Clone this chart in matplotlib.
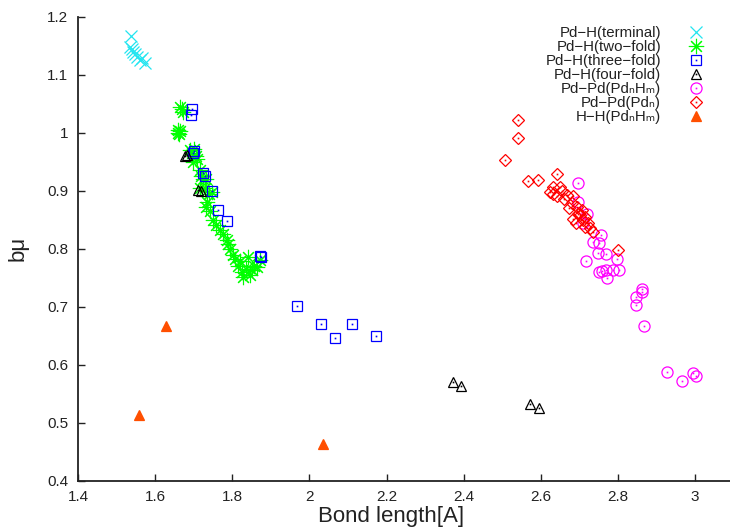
import matplotlib
matplotlib.use("Agg")
import matplotlib.pyplot as plt
from matplotlib.legend_handler import HandlerTuple

plt.rcParams['font.family'] = ['Liberation Sans', 'DejaVu Sans']

# ---- data
term_x = [1.537, 1.535, 1.539, 1.543, 1.548, 1.552, 1.561, 1.574, 1.565]
term_y = [1.167, 1.148, 1.145, 1.140, 1.135, 1.131, 1.125, 1.120, 1.128]

two_x = [1.665, 1.669, 1.672, 1.658, 1.660, 1.662, 1.664, 1.690, 1.695, 1.700, 1.705,
         1.708, 1.698, 1.715, 1.720, 1.725, 1.733, 1.716, 1.730, 1.740, 1.747, 1.735,
         1.733, 1.742, 1.751, 1.758, 1.768, 1.775, 1.786, 1.790, 1.795, 1.803, 1.808,
         1.820, 1.815, 1.829, 1.825, 1.841, 1.850, 1.855, 1.863, 1.872, 1.845, 1.835]
two_y = [1.045, 1.040, 1.035, 1.005, 1.000, 0.998, 1.003, 0.970, 0.965, 0.972, 0.960,
         0.955, 0.950, 0.935, 0.925, 0.920, 0.921, 0.904, 0.905, 0.895, 0.898, 0.880,
         0.872, 0.865, 0.849, 0.840, 0.832, 0.825, 0.815, 0.808, 0.800, 0.789, 0.782,
         0.778, 0.770, 0.752, 0.760, 0.786, 0.763, 0.770, 0.769, 0.780, 0.755, 0.765]

three_x = [1.695, 1.693, 1.697, 1.700, 1.725, 1.728, 1.747, 1.764, 1.785, 1.872,
           1.875, 1.969, 2.029, 2.067, 2.111, 2.173]
three_y = [1.040, 1.030, 0.965, 0.968, 0.930, 0.925, 0.900, 0.867, 0.848, 0.788,
           0.785, 0.702, 0.670, 0.646, 0.670, 0.649]

four_x = [1.682, 1.678, 1.712, 1.720, 2.373, 2.394, 2.573, 2.594]
four_y = [0.962, 0.960, 0.902, 0.900, 0.571, 0.564, 0.532, 0.526]

pdpd_h_x = [2.695, 2.697, 2.756, 2.736, 2.751, 2.749, 2.770, 2.796, 2.718, 2.751,
            2.759, 2.770, 2.771, 2.802, 2.788, 2.861, 2.863, 2.847, 2.847, 2.868,
            2.928, 2.965, 2.995, 3.001, 2.720, 2.710]
pdpd_h_y = [0.914, 0.881, 0.824, 0.812, 0.810, 0.793, 0.791, 0.783, 0.778, 0.760,
            0.762, 0.764, 0.750, 0.763, 0.763, 0.730, 0.726, 0.717, 0.703, 0.667,
            0.587, 0.572, 0.586, 0.581, 0.860, 0.845]

pdpd_x = [2.541, 2.541, 2.507, 2.566, 2.593, 2.641, 2.624, 2.632, 2.649, 2.632,
          2.641, 2.655, 2.667, 2.684, 2.660, 2.680, 2.693, 2.706, 2.700, 2.702,
          2.684, 2.690, 2.710, 2.715, 2.723, 2.714, 2.728, 2.736, 2.799, 2.672, 2.695]
pdpd_y = [1.022, 0.990, 0.953, 0.917, 0.918, 0.929, 0.898, 0.907, 0.907, 0.895,
          0.890, 0.900, 0.893, 0.890, 0.885, 0.878, 0.872, 0.867, 0.862, 0.858,
          0.852, 0.845, 0.850, 0.855, 0.844, 0.838, 0.835, 0.829, 0.797, 0.870, 0.860]

hh_x = [1.559, 1.628, 2.034]
hh_y = [0.513, 0.666, 0.463]

labels = ['Pd−H(terminal)', 'Pd−H(two−fold)', 'Pd−H(three−fold)', 'Pd−H(four−fold)',
          'Pd−Pd(PdₙHₘ)', 'Pd−Pd(Pdₙ)', 'H−H(PdₙHₘ)']

fig = plt.figure(figsize=(7.30, 5.31), dpi=100)
ax = fig.add_axes([78 / 730, 50.3 / 531, 652 / 730, 464 / 531])

handles = []

def pts(x, y, marker, color, ms, dot=False, filled=False, mew=0.9):
    h = ax.plot(x, y, ls='none', marker=marker, ms=ms, mew=mew,
                mec=color, mfc=color if filled else 'none')[0]
    if dot:
        d = ax.plot(x, y, ls='none', marker='s', ms=1.2, mew=0, mfc=color)[0]
        handles.append((h, d))
    else:
        handles.append(h)

pts(term_x, term_y, 'x', '#22e5f0', 9)
pts(two_x, two_y, (8, 2, 0), '#00ff00', 11, mew=0.8)
pts(three_x, three_y, 's', '#0000ff', 7.5, dot=True)
pts(four_x, four_y, '^', 'black', 7.5, dot=True)
pts(pdpd_h_x, pdpd_h_y, 'o', '#ff00ff', 8, dot=True)
pts(pdpd_x, pdpd_y, 'D', '#ff0000', 6, dot=True)
pts(hh_x, hh_y, '^', '#ff4f00', 6.5, filled=True)

ax.set_xlim(1.4, 1.4 + 652 / 385.75)
ax.set_ylim(0.4, 1.2)
ax.set_xticks([1.4, 1.6, 1.8, 2.0, 2.2, 2.4, 2.6, 2.8, 3.0])
ax.set_xticklabels(['1.4', '1.6', '1.8', '2', '2.2', '2.4', '2.6', '2.8', '3'])
ax.set_yticks([0.4, 0.5, 0.6, 0.7, 0.8, 0.9, 1.0, 1.1, 1.2])
ax.set_yticklabels(['0.4', '0.5', '0.6', '0.7', '0.8', '0.9', '1', '1.1', '1.2'])
ax.tick_params(direction='in', length=5, width=1, labelsize=11, colors='#222222', pad=7)
for s in ['top', 'right']:
    ax.spines[s].set_visible(False)
for s in ['left', 'bottom']:
    ax.spines[s].set_linewidth(1.3)
    ax.spines[s].set_color('#222222')

ax.set_xlabel('Bond length[A]', fontsize=16, color='#222222')
ax.xaxis.set_label_coords(313 / 652, -25 / 464)
ax.set_ylabel('bμ', fontsize=16, color='#222222')
ax.yaxis.set_label_coords(-49 / 652, 0.5)

leg = ax.legend(handles, labels, loc='upper right', bbox_to_anchor=(712 / 730, 1 - 19 / 531),
                bbox_transform=fig.transFigure, frameon=False, markerfirst=False,
                fontsize=10.8, labelspacing=0.0, handlelength=1.2, handletextpad=1.7,
                borderpad=0, handler_map={tuple: HandlerTuple(ndivide=1, pad=0)})
for t in leg.get_texts():
    t.set_color('#222222')

fig.savefig('out.png', dpi=100)
